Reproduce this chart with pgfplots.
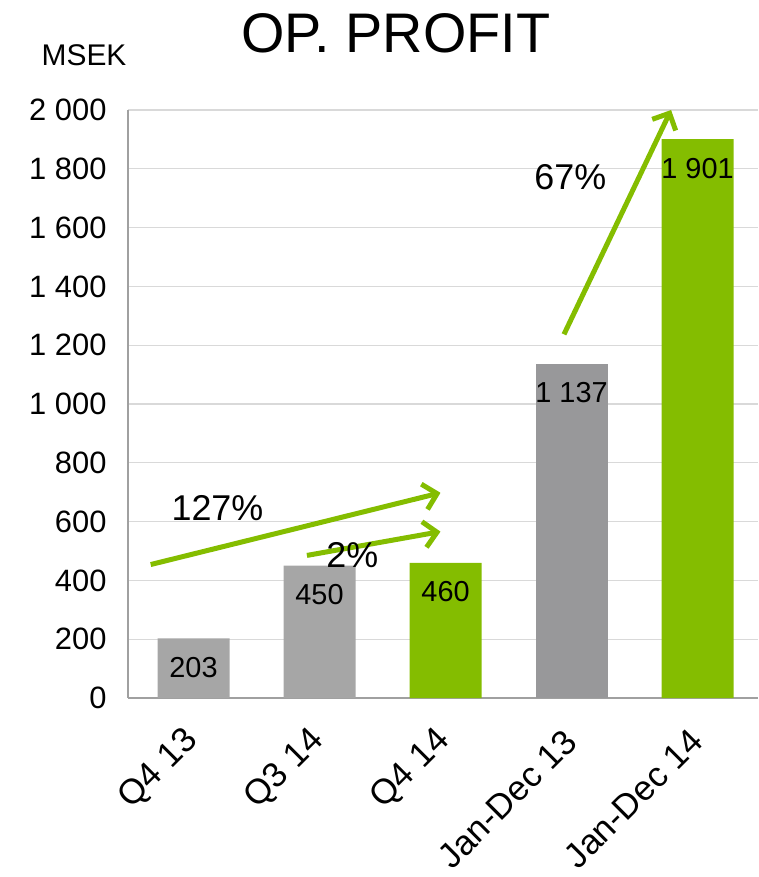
\documentclass[border=0pt]{standalone}
\usepackage{pgfplots}
\pgfplotsset{compat=1.18}
\usepackage{fontspec}
\setmainfont{Liberation Sans}
\usetikzlibrary{arrows.meta}
\definecolor{opgreen}{HTML}{84BD00}
\definecolor{lgray}{HTML}{A6A6A6}
\definecolor{dgray}{HTML}{98989A}
\definecolor{gridgray}{HTML}{D9D9D9}
\definecolor{axgray}{HTML}{A0A0A0}
\begin{document}
\begin{tikzpicture}
\begin{axis}[
    scale only axis,
    width=630bp, height=588bp,
    xmin=-0.52, xmax=4.48,
    ymin=0, ymax=2000,
    axis lines*=left,
    axis line style={draw=axgray, line width=1.2bp, -},
    ymajorgrids=true,
    grid style={gridgray, line width=1.2bp},
    major tick length=0pt,
    xtick={0,1,2,3,4},
    xticklabels={Q4 13,Q3 14,Q4 14,Jan-Dec 13,Jan-Dec 14},
    xticklabel style={rotate=45, anchor=east, font=\fontsize{35}{37}\selectfont, xshift=-24bp, yshift=-26bp},
    ytick={0,200,...,2000},
    yticklabels={0,200,400,600,800,1 000,1 200,1 400,1 600,1 800,2 000},
    yticklabel style={font=\fontsize{31}{33}\selectfont, xshift=-18bp},
    /pgf/number format/assume math mode=true,
    ybar, bar width=72bp,
    point meta=explicit symbolic,
    nodes near coords,
    every node near coord/.append style={anchor=center, yshift=-29bp, font=\fontsize{29}{31}\selectfont, text=black},
    clip=false,
]
\addplot[fill=lgray, draw=none, bar shift=0pt] coordinates {(0,203) [203] (1,450) [450]};
\addplot[fill=opgreen, draw=none, bar shift=0pt] coordinates {(2,460) [460] (4,1901) [1 901]};
\addplot[fill=dgray, draw=none, bar shift=0pt] coordinates {(3,1137) [1 137]};

% growth arrows and their labels
\draw[opgreen, line width=5bp, -{Straight Barb[length=13bp, width=26bp, line width=5bp]}]
    (axis cs:-0.34,454) -- (axis cs:1.96,698);
\draw[opgreen, line width=5bp, -{Straight Barb[length=13bp, width=26bp, line width=5bp]}]
    (axis cs:0.90,485) -- (axis cs:1.96,566);
\draw[opgreen, line width=5bp, -{Straight Barb[length=13bp, width=26bp, line width=5bp]}]
    (axis cs:2.94,1237) -- (axis cs:3.79,2000);
\node[font=\fontsize{36}{38}\selectfont] at (axis cs:0.19,646) {127\%};
\node[font=\fontsize{36}{38}\selectfont] at (axis cs:1.26,486) {2\%};
\node[font=\fontsize{36}{38}\selectfont] at (axis cs:2.99,1772) {67\%};
\node[font=\fontsize{56}{58}\selectfont] at (rel axis cs:0.425,1.131) {OP. PROFIT};
\node[font=\fontsize{30}{32}\selectfont] at (rel axis cs:-0.0698,1.094) {MSEK};
% page extent
\path (rel axis cs:-0.2032,1.1871) (rel axis cs:1,-0.3044);
\end{axis}
\end{tikzpicture}
\end{document}
